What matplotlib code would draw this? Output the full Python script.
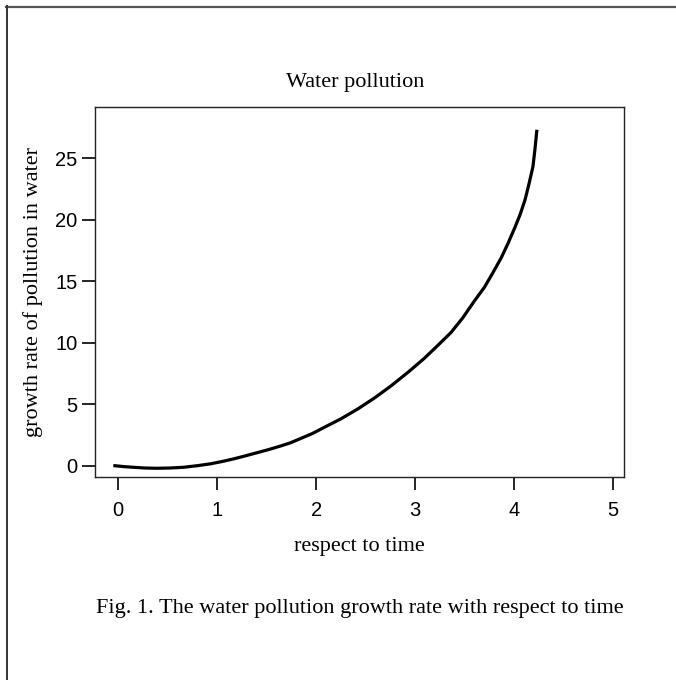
import matplotlib
matplotlib.use("Agg")
import matplotlib.pyplot as plt
from matplotlib.lines import Line2D

# growth rate of water pollution over time
time = [-0.05, 0.05, 0.15, 0.27, 0.39, 0.52, 0.66, 0.80, 0.93, 1.05, 1.17,
        1.28, 1.40, 1.52, 1.64, 1.74, 1.84, 1.96, 2.08, 2.25, 2.42, 2.59,
        2.76, 2.93, 3.09, 3.22, 3.36, 3.48, 3.60, 3.70, 3.78, 3.87, 3.94,
        4.01, 4.06, 4.11, 4.15, 4.19, 4.21, 4.23]
rate = [0.0, -0.08, -0.14, -0.20, -0.22, -0.20, -0.14, -0.01, 0.14, 0.33, 0.55,
        0.78, 1.04, 1.30, 1.59, 1.85, 2.19, 2.60, 3.1, 3.8, 4.6, 5.5,
        6.5, 7.6, 8.7, 9.7, 10.8, 12.0, 13.4, 14.5, 15.6, 16.9, 18.1,
        19.4, 20.4, 21.6, 22.9, 24.3, 25.7, 27.3]

x_ticks = [0, 1, 2, 3, 4, 5]
y_ticks = [0, 5, 10, 15, 20, 25]

title = "Water pollution"
x_label = "respect to time"
y_label = "growth rate of pollution in water"
caption = "Fig. 1. The water pollution growth rate with respect to time"

serif = ["Liberation Serif", "DejaVu Serif"]
sans = ["Liberation Sans", "DejaVu Sans"]

W, H = 676, 680
fig = plt.figure(figsize=(W / 100, H / 100), dpi=100)
fig.patch.set_facecolor("white")

# axes box in pixel coordinates
left, right, top, bottom = 95, 624, 107, 477
ax = fig.add_axes([left / W, 1 - bottom / H, (right - left) / W, (bottom - top) / H])

ax.plot(time, rate, color="black", lw=2.3, solid_capstyle="butt",
        solid_joinstyle="round")

ax.set_xlim(-0.235, 5.11)
ax.set_ylim(-0.93, 29.15)
ax.set_xticks(x_ticks)
ax.set_yticks(y_ticks)
ax.set_xticklabels([str(v) for v in x_ticks], fontfamily=sans, fontsize=14.5)
ax.set_yticklabels([str(v) for v in y_ticks], fontfamily=sans, fontsize=14.5)
ax.tick_params(axis="x", direction="out", length=9.5, width=1.2, pad=8, colors="black")
ax.tick_params(axis="y", direction="out", length=9.5, width=1.2, pad=3, colors="black")
for s in ax.spines.values():
    s.set_linewidth(1.0)
    s.set_color("#222222")

cx = (left + right) / 2 / W
fig.text(cx - 4 / W, 1 - 83 / H, title, ha="center", va="center", fontfamily=serif, fontsize=16)
fig.text(cx, 1 - 547 / H, x_label, ha="center", va="center", fontfamily=serif, fontsize=16)
fig.text(33 / W, 1 - ((top + bottom) / 2) / H, y_label, ha="center", va="center",
         rotation=90, fontfamily=serif, fontsize=16)
fig.text(cx, 1 - 608 / H, caption, ha="center", va="center", fontfamily=serif, fontsize=16)

# frame lines along the top and left of the figure
fig.add_artist(Line2D([6 / W, 1], [1 - 6.5 / H, 1 - 6.5 / H], transform=fig.transFigure,
                      color="#555555", lw=1.6))
fig.add_artist(Line2D([6.5 / W, 6.5 / W], [0, 1 - 6 / H], transform=fig.transFigure,
                      color="#333333", lw=1.4))

fig.savefig("out.png", dpi=100)
